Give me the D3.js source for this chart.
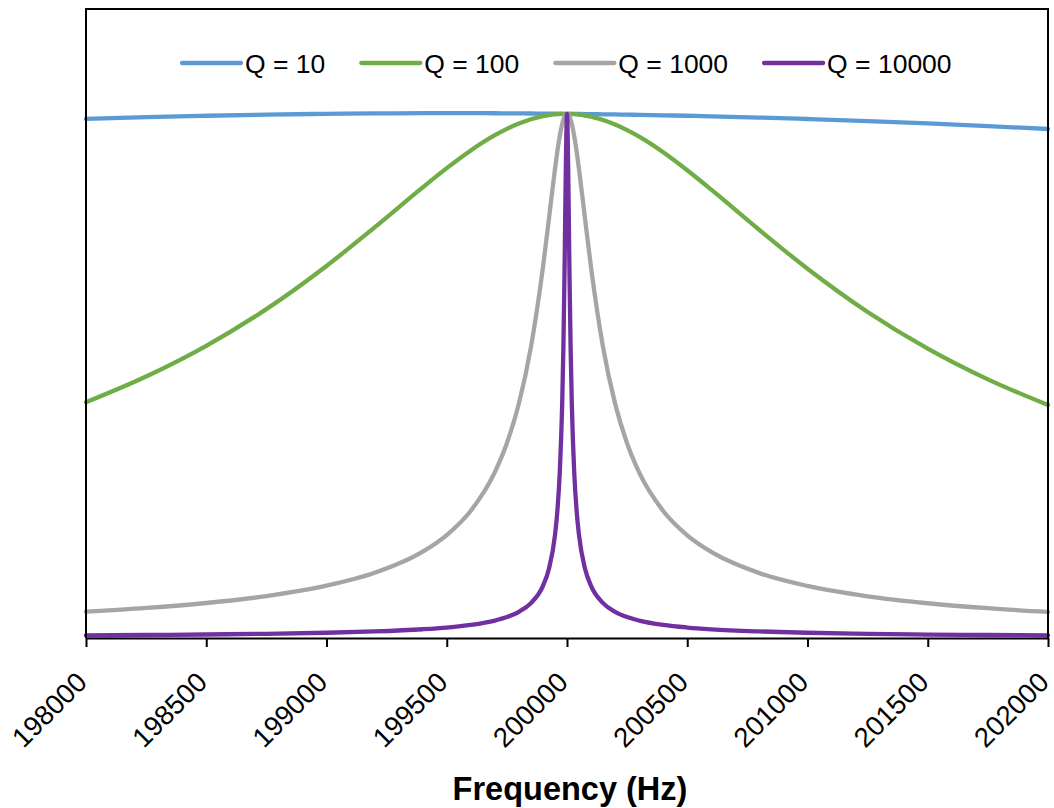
<!DOCTYPE html>
<html>
<head>
<meta charset="utf-8">
<script src="https://cdn.jsdelivr.net/npm/d3@7"></script>
<style>
  html, body { margin: 0; padding: 0; background: #fff; }
  svg { display: block; }
  text { font-family: "Liberation Sans", Arial, Helvetica, sans-serif; fill: #000; }
</style>
</head>
<body>
<svg id="chart" width="1054" height="808"></svg>
<script>
// Drive frequency (Hz)
const freqHz = [198000,198250,198500,198750,199000,199200,199400,199500,199600,199700,199750,
  199800,199850,199900,199925,199950,199960,199970,199980,199985,199990,199995,200000,
  200005,200010,200015,200020,200030,200040,200050,200075,200100,200150,200200,200250,
  200300,200400,200500,200600,200800,201000,201250,201500,201750,202000];

// Normalised response amplitude for each quality factor
const ampQ10 = [0.9903,0.9936,0.9963,0.9985,1.0000,1.0008,1.0012,1.0013,1.0012,1.0011,1.0009,
  1.0008,1.0006,1.0005,1.0004,1.0002,1.0002,1.0002,1.0001,1.0001,1.0001,1.0000,1.0000,
  1.0000,0.9999,0.9999,0.9999,0.9998,0.9998,0.9997,0.9996,0.9995,0.9991,0.9988,0.9984,
  0.9981,0.9972,0.9963,0.9952,0.9929,0.9901,0.9862,0.9817,0.9766,0.9711];
const ampQ100 = [0.4499,0.4989,0.5574,0.6274,0.7098,0.7834,0.8597,0.8964,0.9302,0.9592,0.9713,
  0.9815,0.9897,0.9955,0.9976,0.9990,0.9994,0.9997,0.9999,1.0000,1.0000,1.0000,1.0000,
  1.0000,0.9999,0.9998,0.9997,0.9994,0.9990,0.9985,0.9968,0.9946,0.9882,0.9796,0.9690,
  0.9565,0.9268,0.8924,0.8553,0.7784,0.7045,0.6220,0.5520,0.4934,0.4446];
const ampQ1000 = [0.0502,0.0573,0.0668,0.0800,0.0998,0.1243,0.1647,0.1964,0.2428,0.3165,0.3717,
  0.4475,0.5550,0.7074,0.8002,0.8946,0.9287,0.9580,0.9807,0.9890,0.9951,0.9988,1.0000,
  0.9987,0.9950,0.9889,0.9805,0.9577,0.9283,0.8943,0.7998,0.7069,0.5546,0.4471,0.3711,
  0.3160,0.2423,0.1959,0.1642,0.1238,0.0993,0.0795,0.0663,0.0568,0.0497];
const ampQ10000 = [0.0050,0.0057,0.0067,0.0080,0.0100,0.0125,0.0167,0.0200,0.0250,0.0333,0.0400,
  0.0500,0.0665,0.0995,0.1322,0.1961,0.2426,0.3163,0.4472,0.5547,0.7071,0.8944,1.0000,
  0.8944,0.7071,0.5547,0.4472,0.3162,0.2425,0.1961,0.1322,0.0995,0.0665,0.0499,0.0399,
  0.0333,0.0250,0.0200,0.0166,0.0125,0.0100,0.0080,0.0066,0.0057,0.0050];

const seriesNames = ["Q = 10", "Q = 100", "Q = 1000", "Q = 10000"];
const seriesValues = [ampQ10, ampQ100, ampQ1000, ampQ10000];
const seriesColors = ["#5B9BD5", "#70AD47", "#A5A5A5", "#7030A0"];

const xTicks = [198000,198500,199000,199500,200000,200500,201000,201500,202000];
const xTitle = "Frequency (Hz)";

const svg = d3.select("#chart");
const plot = { left: 86, right: 1048, top: 9, bottom: 638 };

const x = d3.scaleLinear().domain([198000, 202000]).range([plot.left, plot.right]);
const y = d3.scaleLinear().domain([0, 1.2]).range([plot.bottom, plot.top]);

// Response curves, first series at the back
const line = d3.line()
  .x(d => x(d[0]))
  .y(d => y(d[1]))
  .curve(d3.curveMonotoneX);

svg.append("g")
  .selectAll("path")
  .data(seriesValues.map((vals, i) => ({ pts: freqHz.map((f, j) => [f, vals[j]]), color: seriesColors[i] })))
  .join("path")
  .attr("d", d => line(d.pts))
  .attr("fill", "none")
  .attr("stroke", d => d.color)
  .attr("stroke-width", 4.3)
  .attr("stroke-linejoin", "round")
  .attr("stroke-linecap", "round");

// Plot frame
svg.append("path")
  .attr("d", `M${plot.left},${plot.bottom}V${plot.top}H${plot.right}V${plot.bottom}`)
  .attr("fill", "none")
  .attr("stroke", "#000")
  .attr("stroke-width", 2);

// Bottom axis with rotated labels
const xAxis = d3.axisBottom(x)
  .tickValues(xTicks)
  .tickFormat(d => String(d))
  .tickSize(9)
  .tickSizeOuter(0);

const gx = svg.append("g")
  .attr("transform", `translate(0,${plot.bottom})`)
  .call(xAxis);
gx.select(".domain").attr("stroke", "#000").attr("stroke-width", 2);
gx.selectAll(".tick line").attr("stroke", "#000").attr("stroke-width", 2);
gx.selectAll(".tick text")
  .attr("x", 0).attr("y", 0).attr("dy", null)
  .attr("transform", "translate(2,46) rotate(-45)")
  .attr("text-anchor", "end")
  .style("font-size", "27.5px")
  .style("font-family", "'Liberation Sans', Arial, sans-serif")
  .attr("fill", "#000");

svg.append("text")
  .attr("x", 570)
  .attr("y", 800)
  .attr("text-anchor", "middle")
  .style("font-size", "32.5px")
  .style("font-weight", "bold")
  .text(xTitle);

// Legend across the top of the plot
const legend = svg.append("g");
let lx = 182;
const ly = 63;
seriesNames.forEach((name, i) => {
  legend.append("line")
    .attr("x1", lx).attr("x2", lx + 59)
    .attr("y1", ly).attr("y2", ly)
    .attr("stroke", seriesColors[i])
    .attr("stroke-width", 4.3)
    .attr("stroke-linecap", "round");
  const t = legend.append("text")
    .attr("x", lx + 63)
    .attr("y", ly + 9.5)
    .style("font-size", "26.5px")
    .text(name);
  lx += 63 + t.node().getComputedTextLength() + 36;
});
</script>
</body>
</html>
